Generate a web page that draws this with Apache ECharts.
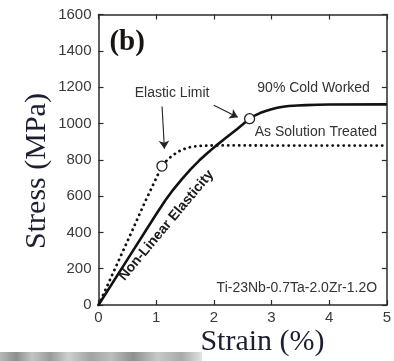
<!DOCTYPE html>
<html>
<head>
<meta charset="utf-8">
<script src="https://cdn.jsdelivr.net/npm/echarts@6/dist/echarts.min.js"></script>
<style>
  html, body { margin: 0; padding: 0; background: #ffffff; }
  #chart { width: 394px; height: 361px; }
</style>
</head>
<body>
<div id="chart"></div>
<script>
// Axis ranges
const strainRange = [0, 5];
const stressRange = [0, 1600];
const strainStep = 1;
const stressStep = 200;

// As Solution Treated (dotted curve)
const solutionStrain = [0, 0.5, 0.82, 1.1, 1.15, 1.2, 1.25, 1.3, 1.35, 1.4, 1.45, 1.5, 1.55, 1.6, 1.7, 1.8, 1.9, 2.0, 2.5, 3.0, 4.0, 5.0];
const solutionStress = [0, 350, 577, 765, 785, 801, 815, 827, 838, 847, 855, 861, 866, 870, 875, 877, 878, 879, 879, 878, 878, 878];

// 90% Cold Worked (solid curve)
const coldStrain = [0, 0.5, 1.0, 1.16, 1.3, 1.45, 1.6, 1.75, 1.9, 2.03, 2.2, 2.4, 2.62, 2.7, 2.8, 2.9, 3.0, 3.1, 3.2, 3.3, 3.45, 3.6, 3.8, 4.0, 5.0];
const coldStress = [0, 250, 500, 577, 637, 695, 748, 797, 840, 875, 918, 968, 1026, 1042, 1057, 1068, 1078, 1086, 1092, 1096, 1099, 1101, 1103, 1104, 1105];

// Elastic limits (open circles)
const limitStrain = [1.1, 2.62];
const limitStress = [765, 1026];

// Arrows pointing at the elastic limits: [strain, stress]
const arrowFrom = [[1.102, 1093], [2.0, 1100]];
const arrowTo = [[1.143, 861], [2.415, 1034]];

const zip = (xs, ys) => xs.map((x, i) => [x, ys[i]]);

const sans = 'Liberation Sans, Arial, sans-serif';
const serif = 'Liberation Serif, Times New Roman, serif';
const frame = '#2b2b2b';

const chart = echarts.init(document.getElementById('chart'), null, { renderer: 'canvas' });

const frameAxis = (pos, showLabel, range, step) => ({
  type: 'value',
  position: pos,
  min: range[0],
  max: range[1],
  interval: step,
  axisLine: { show: true, onZero: false, lineStyle: { color: frame, width: 1.5 } },
  axisTick: { show: true, inside: true, length: 5, lineStyle: { color: frame, width: 1.2 } },
  axisLabel: {
    show: showLabel,
    color: '#3a3a3a',
    fontFamily: sans,
    fontSize: 15,
    margin: pos === 'bottom' ? 5 : 7,
    formatter: v => String(v)
  },
  splitLine: { show: false }
});

chart.setOption({
  animation: false,
  backgroundColor: '#ffffff',
  grid: { left: 98.5, right: 1.3, top: 14.5, bottom: 56, containLabel: false },
  xAxis: [
    frameAxis('bottom', true, strainRange, strainStep),
    frameAxis('top', false, strainRange, strainStep)
  ],
  yAxis: [
    frameAxis('left', true, stressRange, stressStep),
    frameAxis('right', false, stressRange, stressStep)
  ],
  series: [
    {
      name: 'As Solution Treated',
      type: 'line',
      data: zip(solutionStrain, solutionStress),
      showSymbol: false,
      lineStyle: { color: '#111', width: 2.8, type: [0.1, 5.4], cap: 'round', join: 'round' },
      z: 3
    },
    {
      name: '90% Cold Worked',
      type: 'line',
      data: zip(coldStrain, coldStress),
      showSymbol: false,
      lineStyle: { color: '#111', width: 2.6, join: 'round' },
      z: 3
    },
    {
      name: 'Elastic Limit',
      type: 'scatter',
      data: zip(limitStrain, limitStress),
      symbol: 'circle',
      symbolSize: 10,
      itemStyle: { color: '#ffffff', borderColor: '#222', borderWidth: 1.3, opacity: 1 },
      z: 5,
      markLine: {
        silent: true,
        symbol: ['none', 'arrow'],
        symbolSize: 8,
        label: { show: false },
        lineStyle: { color: '#222', width: 1.1, type: 'solid', opacity: 1 },
        data: arrowFrom.map((f, i) => [{ coord: f }, { coord: arrowTo[i] }])
      }
    }
  ]
});

// Text annotations anchored in data space
const notes = [
  { text: '(b)', at: [0.19, 1446], align: 'left', font: 'bold 29px ' + serif, color: '#1a1410' },
  { text: 'Elastic Limit', at: [1.276, 1165], align: 'center', font: '14px ' + sans, color: '#333' },
  { text: '90% Cold Worked', at: [3.73, 1193], align: 'center', font: '14px ' + sans, color: '#333' },
  { text: 'As Solution Treated', at: [3.77, 953], align: 'center', font: '14px ' + sans, color: '#333' },
  { text: 'Ti-23Nb-0.7Ta-2.0Zr-1.2O', at: [3.44, 93], align: 'center', font: '14px ' + sans, color: '#333' },
  { text: 'Non-Linear Elasticity', at: [1.175, 438], align: 'center', font: 'bold 14px ' + sans, color: '#1a1a1a', rotate: 50 }
];

const graphics = notes.map(n => {
  const p = chart.convertToPixel({ xAxisIndex: 0, yAxisIndex: 0 }, n.at);
  return {
    type: 'text',
    x: p[0],
    y: p[1],
    rotation: (n.rotate || 0) * Math.PI / 180,
    z: 10,
    style: { text: n.text, font: n.font, fill: n.color, align: n.align, verticalAlign: 'middle' }
  };
});

// Axis titles
graphics.push({
  type: 'text', x: 37, y: 171, rotation: Math.PI / 2, z: 10,
  style: { text: 'Stress (MPa)', font: '30px ' + serif, fill: '#1c1f33', align: 'center', verticalAlign: 'middle' }
});
graphics.push({
  type: 'text', x: 262.5, y: 342, z: 10,
  style: { text: 'Strain (%)', font: '30px ' + serif, fill: '#1c1f33', align: 'center', verticalAlign: 'middle' }
});

// Grey textured strip along the lower-left edge
graphics.push({
  type: 'rect', z: 1,
  shape: { x: 0, y: 352, width: 202, height: 9 },
  style: {
    fill: new echarts.graphic.LinearGradient(0, 0, 1, 0.15, [
      { offset: 0, color: '#b8b8b8' },
      { offset: 0.08, color: '#8e8e8e' },
      { offset: 0.16, color: '#c4c4c4' },
      { offset: 0.25, color: '#9a9a9a' },
      { offset: 0.34, color: '#cfcfcf' },
      { offset: 0.45, color: '#a2a2a2' },
      { offset: 0.55, color: '#bdbdbd' },
      { offset: 0.66, color: '#8f8f8f' },
      { offset: 0.78, color: '#c8c8c8' },
      { offset: 0.9, color: '#a9a9a9' },
      { offset: 1, color: '#e2e2e2' }
    ])
  }
});

chart.setOption({ graphic: graphics });
</script>
</body>
</html>
